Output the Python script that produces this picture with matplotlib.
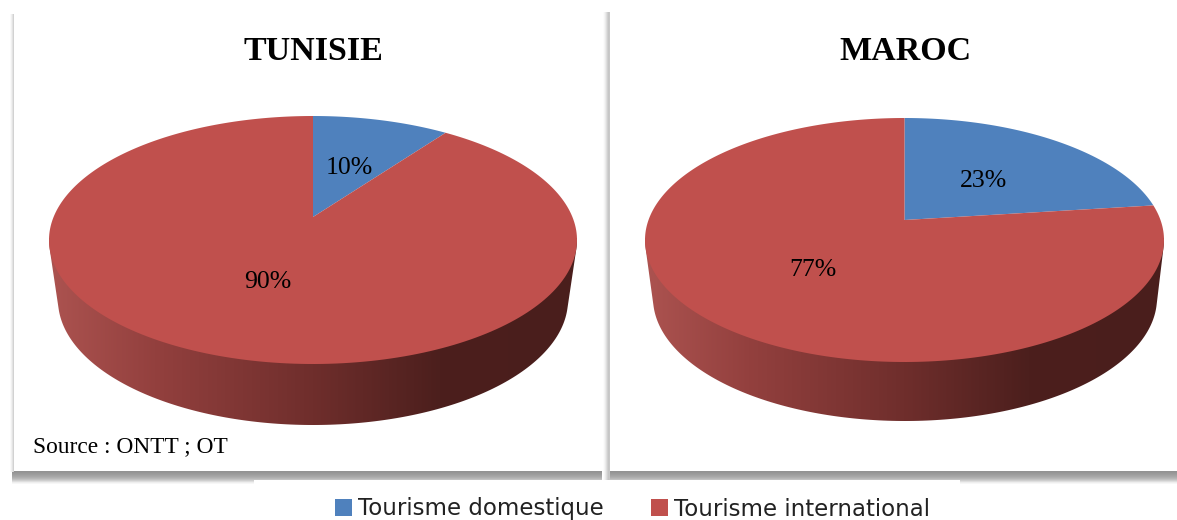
import numpy as np
import matplotlib
matplotlib.use("Agg")
import matplotlib.pyplot as plt
from matplotlib.colors import LinearSegmentedColormap
from matplotlib.patches import Patch, PathPatch
from matplotlib.path import Path
from matplotlib.transforms import Affine2D, Transform

W, H = 1177, 520
titles = ["TUNISIE", "MAROC"]
tunisie_values = [10, 90]
maroc_values = [23, 77]
series_names = ["Tourisme domestique", "Tourisme international"]
colors = ["#4F81BD", "#C0504D"]
source_text = "Source : ONTT ; OT"
SERIF = "Liberation Serif"


class Tilt(Transform):
    """Perspective view of the unit disc: centre moves to (0, c), the rim stays the unit circle."""
    input_dims = output_dims = 2
    is_affine = False

    def __init__(self, c):
        super().__init__()
        self.c = c

    def transform_non_affine(self, xy):
        xy = np.asarray(xy, float)
        d = 1 + self.c * xy[:, 1]
        return np.column_stack((xy[:, 0] * np.sqrt(1 - self.c ** 2) / d,
                                (xy[:, 1] + self.c) / d))

    def transform_path_non_affine(self, path):
        polys = path.transformed(Affine2D().scale(2000)).to_polygons(closed_only=False)
        pts = np.vstack(polys) / 2000
        return Path(self.transform_non_affine(pts), closed=True)


fig = plt.figure(figsize=(W / 100, H / 100), dpi=100, facecolor="white")
ax = fig.add_axes([0, 0, 1, 1])


def gradient(x0, x1, y0, y1, values, vertical=True, z=1.0):
    span = (y1 - y0) if vertical else (x1 - x0)
    fine = np.interp(np.linspace(0, 1, int(span)), np.linspace(0, 1, len(values)), values)
    arr = fine[:, None] if vertical else fine[None, :]
    ax.imshow(arr, cmap="gray", vmin=0, vmax=255, extent=(x0, x1, y1, y0),
              aspect="auto", interpolation="nearest", zorder=z)


def white_rect(x0, x1, y0, y1, z=2):
    ax.fill([x0, x1, x1, x0], [y0, y0, y1, y1], color="white", lw=0, zorder=z)


# panel shadows
bottom_shade = [146, 152, 160, 170, 185, 210, 240, 255]
gradient(12, 602, 471, 485, bottom_shade)
gradient(607, W, 471, 485, bottom_shade)
gradient(9, 14, 14, 472, [255, 248, 232, 210], vertical=False)
gradient(602, 610, 12, 480, [255, 252, 245, 235, 222, 208, 198, 200], vertical=False, z=1.2)
white_rect(254, 960, 480, H, 2)
white_rect(602, 607, 480, 490, 2)

def hull(points):
    pts = sorted(map(tuple, points))
    def half(seq):
        out = []
        for p in seq:
            while len(out) > 1 and ((out[-1][0] - out[-2][0]) * (p[1] - out[-2][1])
                                    - (out[-1][1] - out[-2][1]) * (p[0] - out[-2][0])) <= 0:
                out.pop()
            out.append(p)
        return out[:-1]
    return np.array(half(pts) + half(pts[::-1]))


wall_stops = [(0.0, "#AC5350"), (0.2, "#93403E"), (0.5, "#6F2E2C"), (0.74, "#4C1F1D"), (1.0, "#4A1E1C")]
wall_cmap = LinearSegmentedColormap.from_list("wall", wall_stops)

geometry = [
    dict(top=(313, 240, 264, 124), bottom=(313, 300, 255, 125), apex=217, title=(313, 52), values=tunisie_values),
    dict(top=(904.5, 240, 259.5, 122), bottom=(905, 298, 252, 123), apex=220, title=(905, 52), values=maroc_values),
]

for name, g in zip(titles, geometry):
    cx, cy, rx, ry = g["top"]
    bx, by, brx, bry = g["bottom"]
    t = np.linspace(0, 2 * np.pi, 361)
    outline = np.vstack((np.column_stack((cx + rx * np.cos(t), cy + ry * np.sin(t))),
                         np.column_stack((bx + brx * np.cos(t), by + bry * np.sin(t)))))
    poly = hull(outline)
    im = ax.imshow(np.linspace(0, 1, 256)[None, :], cmap=wall_cmap, aspect="auto",
                   extent=(cx - rx, cx + rx, by + bry + 2, cy - 2),
                   interpolation="bilinear", zorder=3)
    clip = PathPatch(Path(np.vstack((poly, poly[:1])), closed=True), transform=ax.transData,
                     facecolor="none", edgecolor="none")
    ax.add_patch(clip)
    im.set_clip_path(clip)

    c = (cy - g["apex"]) / ry
    tr = Tilt(c) + Affine2D().scale(rx, -ry).translate(cx, cy) + ax.transData
    text_tr = Tilt(c) + Affine2D().scale(rx, -ry).translate(cx - 1, cy + 3) + ax.transData
    wedges, _, autotexts = ax.pie(g["values"], colors=colors, startangle=90, counterclock=False,
                                  autopct="%.0f%%", pctdistance=0.5, radius=1,
                                  textprops=dict(family=SERIF, fontsize=18.5, color="black"),
                                  wedgeprops=dict(linewidth=0))
    for w in wedges:
        w.set_transform(tr)
        w.set_zorder(4)
    for txt in autotexts:
        txt.set_transform(text_tr)
        txt.set_zorder(5)
    ax.text(*g["title"], name, family=SERIF, weight="bold", fontsize=24.5,
            ha="center", va="center", color="black", zorder=5)

ax.text(33, 447, source_text, family=SERIF, fontsize=16.8, ha="left", va="center", color="black", zorder=5)

handles = [Patch(facecolor=col, edgecolor="none") for col in colors]
ax.legend(handles, series_names, ncol=2, frameon=False, loc="center left",
          bbox_to_anchor=(335, 509), bbox_transform=ax.transData,
          prop=dict(family="DejaVu Sans", size=16.5), labelcolor="#222222",
          handlelength=0.75, handleheight=0.75, handletextpad=0.27, columnspacing=2.05,
          borderpad=0, borderaxespad=0)

ax.set_aspect("auto")
ax.set_xlim(0, W)
ax.set_ylim(H, 0)
ax.axis("off")
fig.savefig("out.png", dpi=100, facecolor="white")
